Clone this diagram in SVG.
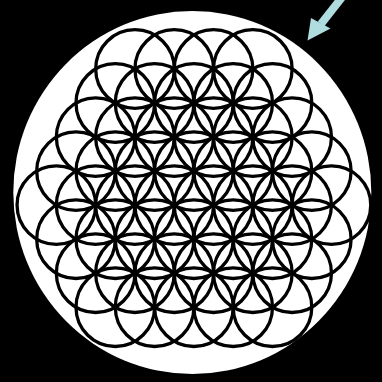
<svg xmlns="http://www.w3.org/2000/svg" width="382" height="382" viewBox="0 0 382 382">
<style>
.c{fill:none;stroke:#000;stroke-width:3.3}
.a{fill:#aedcdf;stroke:none}
</style>
<rect width="382" height="382" fill="#000"/>
<ellipse cx="192.3" cy="192.5" rx="179" ry="181.5" fill="#fff"/>
<g id="flower" class="c">
<g id="row1"><circle cx="135" cy="69" r="39.3"/><circle cx="174.25" cy="69" r="39.3"/><circle cx="213.55" cy="69" r="39.3"/><circle cx="252.85" cy="69" r="39.3"/></g>
<g id="row2"><circle cx="115.3" cy="103" r="39.3"/><circle cx="154.6" cy="103" r="39.3"/><circle cx="193.9" cy="103" r="39.3"/><circle cx="233.2" cy="103" r="39.3"/><circle cx="272.5" cy="103" r="39.3"/></g>
<g id="row3"><circle cx="95.65" cy="137.1" r="39.3"/><circle cx="134.95" cy="137.1" r="39.3"/><circle cx="174.25" cy="137.1" r="39.3"/><circle cx="213.55" cy="137.1" r="39.3"/><circle cx="252.85" cy="137.1" r="39.3"/><circle cx="292.15" cy="137.1" r="39.3"/></g>
<g id="row4"><circle cx="76" cy="171.1" r="39.3"/><circle cx="115.3" cy="171.1" r="39.3"/><circle cx="154.6" cy="171.1" r="39.3"/><circle cx="193.9" cy="171.1" r="39.3"/><circle cx="233.2" cy="171.1" r="39.3"/><circle cx="272.5" cy="171.1" r="39.3"/><circle cx="311.8" cy="171.1" r="39.3"/></g>
<g id="row5"><circle cx="56.35" cy="205.1" r="39.3"/><circle cx="95.65" cy="205.1" r="39.3"/><circle cx="134.95" cy="205.1" r="39.3"/><circle cx="174.25" cy="205.1" r="39.3"/><circle cx="213.55" cy="205.1" r="39.3"/><circle cx="252.85" cy="205.1" r="39.3"/><circle cx="292.15" cy="205.1" r="39.3"/><circle cx="331.45" cy="205.1" r="39.3"/></g>
<g id="row6"><circle cx="76" cy="239.2" r="39.3"/><circle cx="115.3" cy="239.2" r="39.3"/><circle cx="154.6" cy="239.2" r="39.3"/><circle cx="193.9" cy="239.2" r="39.3"/><circle cx="233.2" cy="239.2" r="39.3"/><circle cx="272.5" cy="239.2" r="39.3"/><circle cx="311.8" cy="239.2" r="39.3"/></g>
<g id="row7"><circle cx="95.65" cy="273.2" r="39.3"/><circle cx="134.95" cy="273.2" r="39.3"/><circle cx="174.25" cy="273.2" r="39.3"/><circle cx="213.55" cy="273.2" r="39.3"/><circle cx="252.85" cy="273.2" r="39.3"/><circle cx="292.15" cy="273.2" r="39.3"/></g>
<g id="row8"><circle cx="115.3" cy="307.2" r="39.3"/><circle cx="154.6" cy="307.2" r="39.3"/><circle cx="193.9" cy="307.2" r="39.3"/><circle cx="233.2" cy="307.2" r="39.3"/><circle cx="272.5" cy="307.2" r="39.3"/></g>
</g>
<g id="arrow">
<line x1="343" y1="-4" x2="321" y2="24" stroke="#aedcdf" stroke-width="8"/>
<polygon class="a" points="307.5,40.5 330.5,28.5 311,18"/>
</g>
</svg>
